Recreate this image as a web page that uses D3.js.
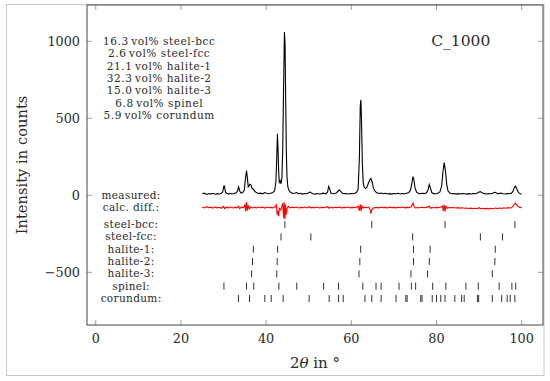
<!DOCTYPE html>
<html lang="en">
  <head>
    <meta charset="UTF-8" />
    <title>C_1000</title>
    <style>
      body { margin: 0; background: #fff; }
      text { font-family: "DejaVu Serif", serif; fill: #2a2a2a; }
    </style>
  </head>
  <body>
    <svg id="svg" width="550" height="381"></svg>

    <script src="https://cdn.jsdelivr.net/npm/d3@7"></script>
    <script>
      // measured pattern [2theta, counts]
      const measured = [
        [25.0, 10], [25.5, 14], [26.0, 6], [26.5, 12], [27.0, 8], [27.5, 13], [28.0, 7], [28.5, 11],
        [29.0, 9], [29.5, 14], [29.8, 22], [30.0, 50], [30.15, 65], [30.3, 45], [30.5, 18], [30.8, 12],
        [31.2, 8], [31.6, 13], [32.0, 9], [32.5, 12], [33.0, 16], [33.3, 30], [33.55, 55], [33.8, 28],
        [34.1, 14], [34.5, 18], [34.9, 35], [35.15, 110], [35.4, 160], [35.6, 115], [35.8, 55], [36.0, 62],
        [36.2, 72], [36.4, 70], [36.7, 45], [37.0, 40], [37.3, 28], [37.7, 18], [38.2, 12], [38.7, 14],
        [39.2, 10], [39.7, 18], [40.2, 12], [40.7, 10], [41.2, 15], [41.6, 18], [42.0, 30], [42.3, 90],
        [42.5, 250], [42.65, 400], [42.8, 300], [42.95, 150], [43.1, 85], [43.3, 95], [43.5, 75], [43.7, 110],
        [43.9, 300], [44.1, 700], [44.3, 1060], [44.45, 980], [44.6, 600], [44.75, 280], [44.9, 120], [45.1, 55],
        [45.4, 30], [45.8, 18], [46.3, 12], [46.8, 15], [47.2, 18], [47.6, 10], [48.0, 13], [48.5, 8],
        [49.0, 12], [49.5, 10], [50.0, 16], [50.3, 22], [50.6, 15], [51.0, 10], [51.5, 8], [52.0, 12],
        [52.5, 9], [53.0, 11], [53.5, 14], [54.0, 10], [54.4, 20], [54.7, 58], [54.95, 40], [55.2, 15],
        [55.6, 10], [56.0, 12], [56.5, 15], [56.9, 28], [57.2, 34], [57.5, 25], [57.9, 14], [58.3, 10],
        [58.8, 12], [59.3, 9], [59.8, 12], [60.3, 10], [60.8, 14], [61.2, 18], [61.6, 40], [61.9, 250],
        [62.1, 580], [62.25, 620], [62.4, 480], [62.6, 200], [62.8, 80], [63.0, 55], [63.3, 45], [63.6, 50],
        [63.9, 70], [64.3, 100], [64.6, 110], [64.9, 85], [65.2, 45], [65.6, 25], [66.0, 16], [66.5, 12],
        [67.0, 15], [67.5, 10], [68.0, 13], [68.5, 9], [69.0, 11], [69.5, 8], [70.0, 12], [70.5, 10],
        [71.0, 13], [71.5, 9], [72.0, 12], [72.5, 10], [73.0, 14], [73.5, 18], [73.9, 35], [74.2, 75],
        [74.45, 122], [74.7, 100], [74.95, 50], [75.3, 22], [75.7, 14], [76.2, 10], [76.7, 13], [77.2, 11],
        [77.7, 18], [78.0, 35], [78.3, 70], [78.6, 45], [78.9, 18], [79.3, 11], [79.8, 10], [80.3, 13],
        [80.8, 22], [81.2, 60], [81.5, 150], [81.8, 212], [82.1, 160], [82.4, 70], [82.7, 30], [83.1, 15],
        [83.6, 10], [84.1, 12], [84.6, 8], [85.1, 11], [85.6, 9], [86.1, 12], [86.6, 10], [87.1, 8],
        [87.6, 11], [88.1, 9], [88.6, 12], [89.1, 10], [89.6, 15], [90.0, 22], [90.3, 24], [90.7, 16],
        [91.2, 11], [91.7, 9], [92.2, 12], [92.7, 10], [93.2, 14], [93.6, 19], [93.9, 18], [94.3, 11],
        [94.8, 13], [95.2, 15], [95.6, 10], [96.1, 9], [96.6, 11], [97.1, 10], [97.6, 14], [98.0, 30],
        [98.3, 52], [98.55, 60], [98.8, 45], [99.1, 25], [99.4, 14], [99.7, 10], [100.0, 9]
      ];

      // measured minus calculated, shifted down
      const calcDiff = [
        [25.0, -76], [25.5, -82], [26.0, -74], [26.5, -80], [27.0, -77], [27.5, -83], [28.0, -75], [28.5, -81],
        [29.0, -78], [29.5, -84], [30.0, -72], [30.3, -86], [30.7, -77], [31.2, -81], [31.7, -76], [32.2, -82],
        [32.7, -78], [33.2, -80], [33.5, -70], [33.8, -86], [34.2, -77], [34.7, -80], [35.0, -62], [35.2, -105],
        [35.4, -45], [35.6, -100], [35.8, -70], [36.1, -88], [36.4, -75], [36.8, -82], [37.2, -78], [37.7, -81],
        [38.2, -76], [38.7, -80], [39.2, -77], [39.7, -83], [40.2, -76], [40.7, -80], [41.2, -78], [41.7, -82],
        [42.1, -74], [42.4, -62], [42.6, -125], [42.75, -100], [42.9, -135], [43.1, -85], [43.4, -95], [43.7, -70],
        [43.9, -52], [44.1, -145], [44.25, -45], [44.4, -155], [44.55, -62], [44.7, -125], [44.9, -85], [45.2, -72],
        [45.6, -82], [46.1, -77], [46.6, -80], [47.1, -76], [47.6, -82], [48.1, -78], [48.6, -80], [49.1, -76],
        [49.6, -82], [50.1, -74], [50.5, -81], [51.0, -78], [51.5, -80], [52.0, -76], [52.5, -82], [53.0, -78],
        [53.5, -80], [54.0, -77], [54.5, -74], [54.8, -84], [55.2, -78], [55.7, -81], [56.2, -77], [56.7, -80],
        [57.2, -75], [57.7, -82], [58.2, -78], [58.7, -80], [59.2, -76], [59.7, -81], [60.2, -78], [60.7, -80],
        [61.2, -77], [61.6, -70], [61.9, -100], [62.1, -58], [62.3, -102], [62.5, -70], [62.8, -82], [63.2, -78],
        [63.6, -80], [64.0, -75], [64.4, -90], [64.6, -118], [64.8, -95], [65.1, -84], [65.5, -80], [66.0, -78],
        [66.5, -81], [67.0, -77], [67.5, -80], [68.0, -78], [68.5, -82], [69.0, -77], [69.5, -80], [70.0, -78],
        [70.5, -81], [71.0, -77], [71.5, -80], [72.0, -76], [72.5, -81], [73.0, -78], [73.5, -80], [74.0, -74],
        [74.3, -62], [74.5, -50], [74.7, -70], [75.0, -82], [75.5, -79], [76.0, -81], [76.5, -77], [77.0, -80],
        [77.5, -78], [78.0, -75], [78.3, -70], [78.6, -84], [79.0, -79], [79.5, -81], [80.0, -78], [80.5, -80],
        [81.0, -76], [81.4, -70], [81.6, -102], [81.8, -62], [82.0, -104], [82.2, -72], [82.5, -84], [83.0, -79],
        [83.5, -81], [84.0, -79], [84.5, -82], [85.0, -80], [85.5, -83], [86.0, -81], [86.5, -84], [87.0, -82],
        [87.5, -85], [88.0, -83], [88.5, -86], [89.0, -84], [89.5, -87], [90.0, -80], [90.3, -86], [90.8, -84],
        [91.3, -88], [91.8, -85], [92.3, -88], [92.8, -84], [93.3, -87], [93.8, -82], [94.3, -86], [94.8, -82],
        [95.3, -85], [95.8, -81], [96.3, -84], [96.8, -80], [97.3, -82], [97.8, -75], [98.2, -60], [98.5, -50],
        [98.8, -62], [99.1, -72], [99.5, -78], [100.0, -80]
      ];

      // reflection positions per phase
      const phaseNames = ["steel-bcc", "steel-fcc", "halite-1", "halite-2", "halite-3", "spinel", "corundum"];
      const phaseRows = [-190, -270, -350, -430, -510, -590, -670];
      const reflections = [
        [44.4, 64.8, 82.0, 98.4],
        [43.5, 50.5, 74.4, 90.3, 95.5],
        [37.0, 42.7, 62.2, 74.6, 78.5, 93.8],
        [36.8, 42.6, 62.0, 74.6, 78.3, 93.7],
        [36.6, 42.5, 61.8, 74.0, 77.9, 93.1],
        [30.1, 35.4, 37.1, 43.0, 47.2, 53.5, 57.0, 62.7, 65.8, 67.0, 71.2, 74.1, 75.1, 79.1, 82.2, 86.9, 89.8, 94.7, 97.7, 98.6],
        [33.5, 36.1, 39.7, 41.2, 44.0, 50.1, 54.8, 57.0, 58.1, 63.2, 64.8, 67.0, 70.5, 72.8, 73.1, 76.3, 76.6, 79.0,
         80.0, 81.0, 82.0, 84.3, 85.9, 86.5, 89.6, 89.9, 93.1, 95.3, 96.6, 97.3, 98.4]
      ];

      const volPercent = ["16.3", "2.6", "21.1", "32.3", "15.0", "6.8", "5.9"];
      const xTicks = [0, 20, 40, 60, 80, 100];
      const yTicks = [-500, 0, 500, 1000];

      const svg = d3.select("#svg");

      const xScale = d3.scaleLinear().domain([-2.05, 105.0]).range([87, 543]);
      const yScale = d3.scaleLinear().domain([-842, 1236]).range([325, 5]);

      // outer figure border
      svg.append("rect")
        .attr("x", 6.5).attr("y", 4.5).attr("width", 537.5).attr("height", 371)
        .attr("fill", "none").attr("stroke", "#c8c8c8");

      // ticks (inside, mirrored)
      const tickG = svg.append("g").attr("stroke", "#888").attr("stroke-width", 0.8);
      xTicks.forEach((t) => {
        const x = xScale(t);
        tickG.append("line").attr("x1", x).attr("x2", x).attr("y1", 325).attr("y2", 320);
        tickG.append("line").attr("x1", x).attr("x2", x).attr("y1", 5).attr("y2", 10);
      });
      yTicks.forEach((t) => {
        const y = yScale(t);
        tickG.append("line").attr("x1", 87).attr("x2", 92).attr("y1", y).attr("y2", y);
        tickG.append("line").attr("x1", 543).attr("x2", 538).attr("y1", y).attr("y2", y);
      });

      svg.append("g").selectAll("text").data(xTicks).join("text")
        .attr("x", (d) => xScale(d)).attr("y", 343)
        .attr("text-anchor", "middle").attr("font-size", 12.8)
        .text((d) => d);

      svg.append("g").selectAll("text").data(yTicks).join("text")
        .attr("x", 80).attr("y", (d) => yScale(d))
        .attr("dy", "0.36em")
        .attr("text-anchor", "end").attr("font-size", 12.8)
        .text((d) => (d < 0 ? "\u2212" + Math.abs(d) : d));

      // data lines
      const line = d3.line().x((d) => xScale(d[0])).y((d) => yScale(d[1]));

      svg.append("path").datum(calcDiff)
        .attr("d", line).attr("fill", "none")
        .attr("stroke", "#f00").attr("stroke-width", 1.1);

      svg.append("path").datum(measured)
        .attr("d", line).attr("fill", "none")
        .attr("stroke", "#000").attr("stroke-width", 1.1);

      // reflection markers
      reflections.forEach((list, i) => {
        svg.append("g").selectAll("line").data(list).join("line")
          .attr("x1", (d) => xScale(d)).attr("x2", (d) => xScale(d))
          .attr("y1", yScale(phaseRows[i] + 23)).attr("y2", yScale(phaseRows[i] - 23))
          .attr("stroke", "#333").attr("stroke-width", 1);
      });

      // row labels
      const rowLabels = ["measured:", "calc. diff.:"].concat(phaseNames.map((p) => p + ":"));
      const rowValues = [0, -80].concat(phaseRows);
      svg.append("g").selectAll("text").data(rowLabels).join("text")
        .attr("x", xScale(8.3))
        .attr("y", (d, i) => yScale(rowValues[i]))
        .attr("dy", "0.33em")
        .attr("text-anchor", "middle").attr("font-size", 10.5)
        .attr("letter-spacing", 0.35)
        .text((d) => d);

      // phase fractions
      svg.append("g").selectAll("text").data(phaseNames).join("text")
        .attr("x", xScale(14.9))
        .attr("y", (d, i) => yScale(976) + i * 12.33)
        .attr("text-anchor", "middle").attr("font-size", 10.5)
        .attr("letter-spacing", 0.55)
        .text((d, i) => volPercent[i] + "\u2009vol% " + d);

      svg.append("text")
        .attr("x", xScale(85.7)).attr("y", yScale(970))
        .attr("text-anchor", "middle").attr("font-size", 15.5)
        .text("C_1000");

      // axis labels
      svg.append("text")
        .attr("transform", "translate(27,165) rotate(-90)")
        .attr("text-anchor", "middle").attr("font-size", 14.7)
        .text("Intensity in counts");

      const xl = svg.append("text")
        .attr("x", 315).attr("y", 368)
        .attr("text-anchor", "middle").attr("font-size", 15);
      xl.append("tspan").text("2");
      xl.append("tspan").attr("font-style", "italic").text("\u03b8");
      xl.append("tspan").text(" in \u00b0");

      // plot frame
      svg.append("rect")
        .attr("x", 87).attr("y", 5).attr("width", 456).attr("height", 320)
        .attr("fill", "none").attr("stroke", "#444").attr("stroke-width", 1);
    </script>
  </body>
</html>
